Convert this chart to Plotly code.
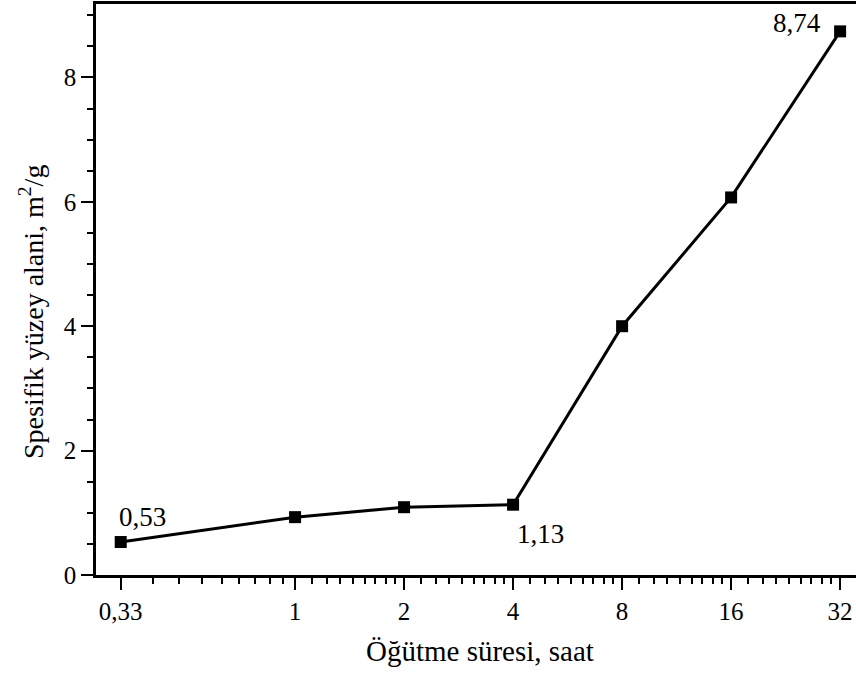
import plotly.graph_objects as go
import numpy as np

x_vals = [0.33, 1, 2, 4, 8, 16, 32]
y_vals = [0.53, 0.93, 1.09, 1.13, 4.00, 6.07, 8.74]
x_tick_vals = [0.33, 1, 2, 4, 8, 16, 32]
x_tick_text = ["0,33", "1", "2", "4", "8", "16", "32"]
y_tick_vals = [0, 2, 4, 6, 8]
label_idx = [0, 3, 6]
label_text = ["0,53", "1,13", "8,74"]
x_title = "Öğütme süresi, saat"
y_title = "Spesifik yüzey alani, m<sup>2</sup>/g"

# minor ticks: 8 evenly spaced values between consecutive major ticks
minor_vals = []
for a, b in zip(x_tick_vals[:-1], x_tick_vals[1:]):
    minor_vals += list(np.linspace(a, b, 10)[1:-1])

FONT = "Liberation Serif, Times New Roman, serif"

fig = go.Figure()
fig.add_trace(go.Scatter(
    x=x_vals, y=y_vals, mode="lines+markers",
    line=dict(color="black", width=3),
    marker=dict(symbol="square", size=12, color="black"),
    showlegend=False, cliponaxis=False,
))

shifts = [(22, 25), (27, -29), (-43, 8)]
for i, t, (dx, dy) in zip(label_idx, label_text, shifts):
    fig.add_annotation(x=np.log10(x_vals[i]), y=y_vals[i], text=t, showarrow=False,
                       xshift=dx, yshift=dy,
                       font=dict(family=FONT, size=27, color="black"))

fig.add_annotation(xref="paper", yref="paper", x=(480 - 96) / 760, y=-(651 - 575) / 571,
                   text=x_title, showarrow=False, xanchor="center", yanchor="middle",
                   font=dict(family=FONT, size=29, color="black"))
fig.add_annotation(xref="paper", yref="paper", x=-(96 - 31) / 760, y=(575 - 312) / 571,
                   text=y_title, showarrow=False, textangle=-90,
                   xanchor="center", yanchor="middle",
                   font=dict(family=FONT, size=28, color="black"))

fig.update_layout(
    width=856, height=675,
    margin=dict(l=96, r=0, t=4, b=100),
    paper_bgcolor="white", plot_bgcolor="white",
    font=dict(family=FONT, color="black"),
)
fig.update_xaxes(
    type="log", range=[np.log10(0.282), np.log10(35.4)],
    tickmode="array", tickvals=x_tick_vals, ticktext=x_tick_text,
    ticks="outside", ticklen=12, tickwidth=2, tickcolor="black",
    minor=dict(tickmode="array", tickvals=minor_vals, ticks="outside", ticklen=6,
               tickwidth=2, tickcolor="black", showgrid=False),
    showline=True, linewidth=2.5, linecolor="black", mirror=True,
    showgrid=False, zeroline=False,
    tickfont=dict(family=FONT, size=25, color="black"),
)
fig.update_yaxes(
    range=[0, 9.18],
    tickmode="array", tickvals=y_tick_vals,
    ticks="outside", ticklen=12, tickwidth=2, tickcolor="black",
    minor=dict(dtick=0.5, ticks="outside", ticklen=6, tickwidth=2, tickcolor="black",
               showgrid=False),
    showline=True, linewidth=2.5, linecolor="black", mirror=False,
    showgrid=False, zeroline=False,
    tickfont=dict(family=FONT, size=25, color="black"),
)

fig.write_html("out.html")
